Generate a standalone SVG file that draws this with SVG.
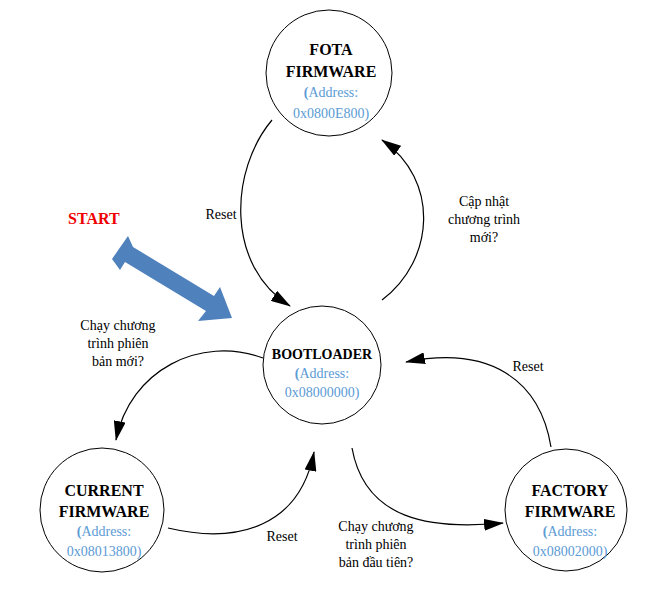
<svg xmlns="http://www.w3.org/2000/svg" width="655" height="606" viewBox="0 0 655 606">
<style>
text{font-family:'Liberation Serif','Times New Roman','DejaVu Serif',serif}
.n{fill:#fff;stroke:#000;stroke-width:1}
.t{font-size:14px;text-anchor:middle;fill:#000}
.b{font-size:16px;font-weight:bold;text-anchor:middle;fill:#000}
.a{font-size:14px;text-anchor:middle;fill:#5b9bd5}
.c{fill:none;stroke:#000;stroke-width:1.2;marker-end:url(#m)}
</style>
<defs><marker id="m" viewBox="0 0 20 12" refX="19" refY="6" markerWidth="20" markerHeight="12" markerUnits="userSpaceOnUse" orient="auto"><path d="M0,0L20,6L0,12z" fill="#000"/></marker></defs>
<rect width="655" height="606" fill="#fff"/>
<g id="connectors">
<path class="c" d="M272,120 C230,170 225,265 290,306"/>
<path class="c" d="M382,300 C435,260 440,180 382,140"/>
<path class="c" d="M263,358 C200,335 130,370 116,440"/>
<path class="c" d="M168,528 C240,545 300,525 314,452"/>
<path class="c" d="M352,448 C365,520 430,530 503,523"/>
<path class="c" d="M551,447 C540,380 490,345 406,362"/>
<polygon points="112,259 128,236 133,247 214,296 220,287 232,318 198,321 206,311 125,262 120,270" fill="#4f81bd"/>
</g>
<g id="labels">
<text x="68" y="224" font-size="16" font-weight="bold" fill="#e00">START</text>
<text class="t" x="221" y="219">Reset</text>
<text class="t" x="484" y="206">Cập nhật</text>
<text class="t" x="484" y="224">chương trình</text>
<text class="t" x="484" y="242">mới?</text>
<text class="t" x="118" y="330">Chạy chương</text>
<text class="t" x="118" y="348">trình phiên</text>
<text class="t" x="118" y="366">bản mới?</text>
<text class="t" x="528" y="371">Reset</text>
<text class="t" x="282" y="541">Reset</text>
<text class="t" x="376" y="531">Chạy chương</text>
<text class="t" x="376" y="549">trình phiên</text>
<text class="t" x="376" y="567">bản đầu tiên?</text>
</g>
<g id="fota"><circle class="n" cx="329" cy="73" r="63"/>
<text class="b" x="331" y="55">FOTA</text><text class="b" x="331" y="77">FIRMWARE</text>
<text class="a" x="331" y="97"><tspan font-weight="bold">(</tspan>Address:</text><text class="a" x="331" y="118">0x0800E800)</text></g>
<g id="bootloader"><circle class="n" cx="322" cy="365" r="59"/>
<text class="b" x="322" y="359" style="font-size:14px">BOOTLOADER</text>
<text class="a" x="322" y="378"><tspan font-weight="bold">(</tspan>Address:</text><text class="a" x="322" y="397">0x08000000)</text></g>
<g id="current"><circle class="n" cx="102" cy="510" r="62"/>
<text class="b" x="104" y="496">CURRENT</text><text class="b" x="104" y="517">FIRMWARE</text>
<text class="a" x="104" y="536"><tspan font-weight="bold">(</tspan>Address:</text><text class="a" x="104" y="556">0x08013800)</text></g>
<g id="factory"><circle class="n" cx="566" cy="510" r="61"/>
<text class="b" x="570" y="496">FACTORY</text><text class="b" x="570" y="517">FIRMWARE</text>
<text class="a" x="570" y="536"><tspan font-weight="bold">(</tspan>Address:</text><text class="a" x="570" y="556">0x08002000)</text></g>
</svg>
